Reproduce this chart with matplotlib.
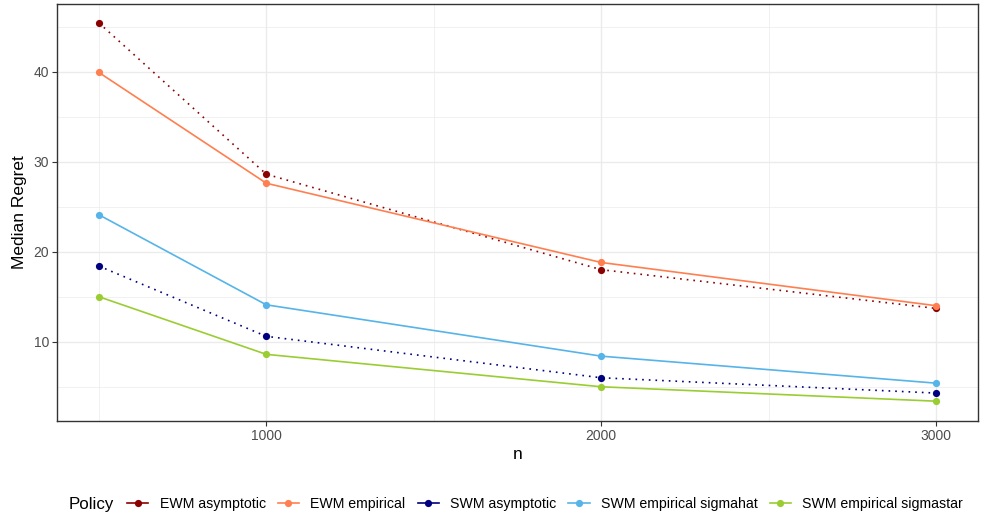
"""Median regret of EWM / SWM policies against sample size n."""

import matplotlib

matplotlib.use("Agg")
import matplotlib.pyplot as plt
from matplotlib.lines import Line2D
from matplotlib.ticker import FixedLocator

plt.rcParams["font.family"] = ["Liberation Sans", "DejaVu Sans"]

N_VALUES = [500, 1000, 2000, 3000]
POLICIES = [
    "EWM asymptotic",
    "EWM empirical",
    "SWM asymptotic",
    "SWM empirical sigmahat",
    "SWM empirical sigmastar",
]
EWM_ASYMPTOTIC = [45.4, 28.6, 18.0, 13.7]
EWM_EMPIRICAL = [39.9, 27.6, 18.8, 14.0]
SWM_ASYMPTOTIC = [18.4, 10.6, 6.0, 4.3]
SWM_SIGMAHAT = [24.1, 14.1, 8.4, 5.4]
SWM_SIGMASTAR = [15.0, 8.6, 5.0, 3.4]

SERIES = [EWM_ASYMPTOTIC, EWM_EMPIRICAL, SWM_ASYMPTOTIC, SWM_SIGMAHAT, SWM_SIGMASTAR]
COLORS = ["#8B0000", "#FF7F50", "#000080", "#56B4E9", "#9ACD32"]
DOTTED = [True, False, True, False, False]

fig = plt.figure(figsize=(9.81, 5.19), dpi=100)
ax = fig.add_axes([57 / 981, 1 - 421 / 519, (978 - 57) / 981, (421 - 4) / 519])

for values, color, dotted in zip(SERIES, COLORS, DOTTED):
    ax.plot(
        N_VALUES,
        values,
        color=color,
        linewidth=1.2,
        linestyle=(0, (1, 3)) if dotted else "-",
        marker="o",
        markersize=5.2,
        markeredgewidth=0,
        zorder=3,
    )

ax.set_xlim(375, 3125)
ax.set_ylim(1.2, 47.5)
ax.xaxis.set_major_locator(FixedLocator([1000, 2000, 3000]))
ax.xaxis.set_minor_locator(FixedLocator([500, 1500, 2500]))
ax.yaxis.set_major_locator(FixedLocator([10, 20, 30, 40]))
ax.yaxis.set_minor_locator(FixedLocator([5, 15, 25, 35, 45]))
ax.grid(True, which="major", color="#EBEBEB", linewidth=1.0, zorder=0)
ax.grid(True, which="minor", color="#EBEBEB", linewidth=0.5, zorder=0)
ax.set_axisbelow(True)

ax.tick_params(which="major", length=3.5, width=0.8, color="#333333",
               labelsize=10, labelcolor="#4D4D4D", pad=2)
ax.tick_params(which="minor", length=0)
for spine in ax.spines.values():
    spine.set_color("#333333")
    spine.set_linewidth(1.0)

ax.set_xlabel("n", fontsize=12.5, labelpad=3)
ax.set_ylabel("Median Regret", fontsize=12.5, labelpad=5)

handles = [
    Line2D([], [], color=c, linewidth=1.2, marker="o", markersize=5.2, markeredgewidth=0)
    for c in COLORS
]
fig.text(69 / 981, 1 - 504 / 519, "Policy", fontsize=12.2, va="center", ha="left")
fig.legend(
    handles,
    POLICIES,
    loc="center left",
    bbox_to_anchor=(127 / 981, 1 - 504 / 519),
    ncol=5,
    frameon=False,
    fontsize=10.2,
    handlelength=1.5,
    handletextpad=0.8,
    columnspacing=0.85,
    borderaxespad=0,
    borderpad=0,
)

fig.savefig("out.png", dpi=100)
